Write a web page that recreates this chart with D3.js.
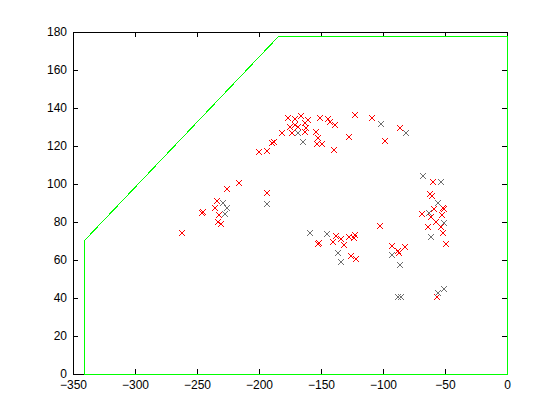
<!DOCTYPE html>
<html>
<head>
<meta charset="utf-8">
<script src="https://cdn.jsdelivr.net/npm/d3@7"></script>
<style>
body { margin: 0; background: #fff; }
svg { display: block; }
.axis text { font-family: "Liberation Sans", Arial, sans-serif; font-size: 12px; fill: #000; }
.axis path, .axis line { stroke: #000; shape-rendering: crispEdges; }
</style>
</head>
<body>
<svg width="560" height="420"></svg>
<script>
/*global d3*/

// red crosses [x, y]
var redX = [-262.3, -246.2, -244.9, -233.6, -235.5, -232.0, -232.8, -230.9, -225.6, -215.9, -193.3,
    -199.8, -193.8, -189.8, -187.9, -181.7, -176.4, -171.0, -166.4, -160.2, -175.0, -171.0, -168.3,
    -162.9, -162.1, -173.6, -162.9, -150.8, -144.1, -142.7, -138.7, -154.0, -152.2, -153.5, -149.4,
    -139.3, -127.2, -122.3, -108.9, -98.1, -86.3, -151.4, -152.2, -137.9, -140.1, -134.1, -131.2,
    -127.2, -122.6, -123.4, -125.8, -122.0, -102.4, -92.5, -87.7, -87.1, -82.3, -68.8, -59.4, -62.1,
    -60.2, -58.6, -51.9, -50.8, -61.3, -57.5, -52.2, -63.5, -53.2, -51.4, -49.2, -56.2];
var redY = [74.0, 84.6, 85.4, 91.2, 87.2, 83.7, 80.2, 78.8, 97.2, 100.4, 95.1,
    117.0, 117.5, 121.4, 122.3, 126.7, 134.6, 134.1, 135.8, 133.7, 130.2, 131.1, 130.2,
    131.9, 129.3, 126.7, 127.5, 134.6, 134.1, 132.8, 131.1, 127.2, 124.1, 120.9, 120.9,
    117.9, 124.6, 136.3, 134.6, 122.6, 129.3, 68.8, 68.3, 72.8, 69.6, 70.9, 67.9,
    72.3, 73.2, 71.4, 62.1, 60.4, 77.9, 67.4, 64.9, 63.5, 66.7, 84.2, 100.9, 94.6,
    93.7, 86.7, 87.2, 86.7, 82.5, 80.2, 83.7, 77.2, 77.2, 74.1, 68.3, 40.7];

// grey crosses [x, y]
var greyX = [-193.3, -228.8, -225.6, -227.4, -164.3, -168.3, -101.6, -81.5, -158.9, -144.9, -136.0,
    -133.9, -92.7, -86.3, -87.9, -85.5, -67.5, -53.2, -55.4, -62.7, -50.6, -61.5, -50.6, -55.4];
var greyY = [89.3, 90.2, 87.2, 84.2, 121.9, 126.7, 131.6, 126.7, 74.1, 73.5, 63.5,
    58.8, 62.6, 57.4, 40.4, 40.4, 104.2, 100.9, 89.8, 84.9, 79.3, 71.9, 44.6, 42.8];

// green boundary [x, y]
var edgeX = [-341, -341, -185, 0, 0, -341];
var edgeY = [0, 70.5, 178, 178, 0, 0];

var xTicks = [-350, -300, -250, -200, -150, -100, -50, 0];
var yTicks = [0, 20, 40, 60, 80, 100, 120, 140, 160, 180];

var svg = d3.select("svg"),
    margin = {top: 32, right: 53, bottom: 46, left: 73},
    width = +svg.attr("width") - margin.left - margin.right,
    height = +svg.attr("height") - margin.top - margin.bottom;

var x = d3.scaleLinear().domain([-350, 0]).range([0, width]),
    y = d3.scaleLinear().domain([0, 180]).range([height, 0]);

var g = svg.append("g")
    .attr("transform", "translate(" + margin.left + "," + margin.top + ")");

g.append("g")
    .attr("class", "axis")
    .attr("transform", "translate(0," + height + ")")
    .call(d3.axisBottom(x).tickValues(xTicks).tickSizeInner(-5).tickSizeOuter(0).tickPadding(6));

g.append("g")
    .attr("class", "axis")
    .call(d3.axisTop(x).tickValues(xTicks).tickSizeInner(-5).tickSizeOuter(0).tickFormat(""));

g.append("g")
    .attr("class", "axis")
    .call(d3.axisLeft(y).tickValues(yTicks).tickSizeInner(-5).tickSizeOuter(0).tickPadding(6));

g.append("g")
    .attr("class", "axis")
    .attr("transform", "translate(" + width + ",0)")
    .call(d3.axisRight(y).tickValues(yTicks).tickSizeInner(-5).tickSizeOuter(0).tickFormat(""));

function crosses(xs, ys, colour) {
    var pts = xs.map(function (d, i) { return [d, ys[i]]; });
    g.append("g").selectAll("path")
        .data(pts)
        .enter().append("path")
        .attr("transform", function (d) {
            return "translate(" + Math.round(x(d[0])) + "," + Math.round(y(d[1])) + ")";
        })
        .attr("d", "M-3,-3L3,3M-3,3L3,-3")
        .attr("fill", "none")
        .attr("stroke", colour)
        .attr("stroke-width", 1);
}

crosses(redX, redY, "#ff0000");
crosses(greyX, greyY, "#6e6e6e");

// snap to pixel centres so it sits on the axis lines like the original
var line = d3.line()
    .x(function (d) { return Math.round(x(d[0])) + 0.5; })
    .y(function (d) { return Math.round(y(d[1])) + 0.5; });

g.append("path")
    .datum(edgeX.map(function (d, i) { return [d, edgeY[i]]; }))
    .attr("d", line)
    .attr("fill", "none")
    .attr("stroke", "#00ff00")
    .attr("stroke-width", 1)
    .attr("shape-rendering", "crispEdges");
</script>
</body>
</html>
